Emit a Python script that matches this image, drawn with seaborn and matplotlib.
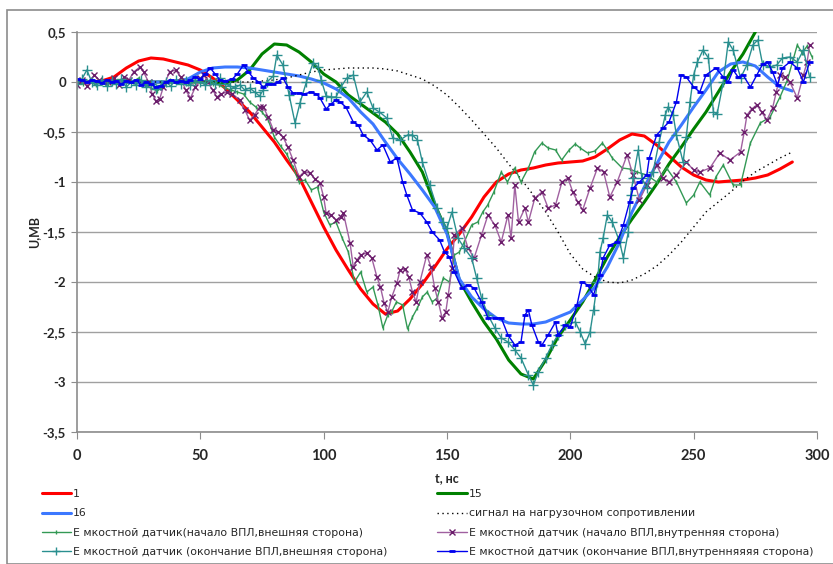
import numpy as np
import pandas as pd
import seaborn as sns
import matplotlib
matplotlib.use("Agg")
from matplotlib import pyplot as plt
from matplotlib.ticker import FuncFormatter
from matplotlib.patches import Rectangle

# smooth curves, step 5 ns
t_smooth = list(range(0, 295, 5))
u_1 = [0, 0, 0.01, 0.05, 0.14, 0.21, 0.24, 0.23, 0.2, 0.17, 0.12, 0.04, -0.06, -0.18, -0.3,
       -0.45, -0.6, -0.78, -0.95, -1.2, -1.45, -1.68, -1.88, -2.07, -2.22, -2.32, -2.29, -2.17,
       -2.02, -1.85, -1.67, -1.52, -1.35, -1.15, -1.0, -0.92, -0.88, -0.86, -0.83, -0.81, -0.8,
       -0.79, -0.75, -0.67, -0.58, -0.52, -0.54, -0.63, -0.74, -0.85, -0.93, -0.98, -1.0, -0.99,
       -0.98, -0.96, -0.93, -0.87, -0.8]
t_15 = list(range(0, 280, 5))
u_15 = [0, 0, 0, 0, 0, 0, 0, 0, 0, 0, 0, 0, -0.01, 0.02, 0.12, 0.28, 0.38, 0.37, 0.3, 0.2,
        0.08, 0.0, -0.13, -0.22, -0.31, -0.4, -0.52, -0.7, -0.9, -1.22, -1.5, -1.98, -2.2, -2.4,
        -2.57, -2.78, -2.92, -2.97, -2.78, -2.55, -2.38, -2.2, -1.98, -1.75, -1.55, -1.37, -1.2,
        -1.02, -0.82, -0.65, -0.47, -0.3, -0.1, 0.1, 0.28, 0.5]
u_16 = [0, 0, 0, 0, 0, 0, 0, 0, 0.01, 0.03, 0.1, 0.14, 0.15, 0.15, 0.14, 0.12, 0.1, 0.08, 0.06,
        0.03, -0.01, -0.07, -0.16, -0.3, -0.42, -0.6, -0.77, -0.92, -1.08, -1.25, -1.52, -1.97,
        -2.15, -2.27, -2.36, -2.41, -2.42, -2.42, -2.4, -2.35, -2.3, -2.18, -2.05, -1.85, -1.6,
        -1.3, -1.05, -0.82, -0.6, -0.43, -0.25, -0.08, 0.1, 0.18, 0.2, 0.16, 0.05, -0.05, -0.09]
u_load = [0, 0, 0, 0, 0, 0, 0, 0, 0, 0, 0, 0, 0, 0, 0, 0.01, 0.02, 0.04, 0.07, 0.1, 0.12, 0.13,
          0.14, 0.14, 0.14, 0.13, 0.11, 0.07, 0.03, -0.04, -0.13, -0.25, -0.38, -0.52, -0.66,
          -0.82, -0.97, -1.13, -1.3, -1.5, -1.72, -1.87, -1.95, -2.0, -2.01, -1.98, -1.92, -1.84,
          -1.73, -1.6, -1.45, -1.3, -1.2, -1.1, -0.99, -0.9, -0.83, -0.76, -0.7]

# capacitive sensors
t_ob = [0, 2.5, 5, 7.5, 10, 12.5, 15, 17.5, 20, 22.5, 25, 27.5, 30, 32.5, 35, 37.5, 40, 42.5, 45,
        47.5, 50, 52.5, 55, 57.5, 60, 62.5, 65, 67.5, 70, 72.5, 75, 77.5, 80, 82.5, 85, 87.5, 90,
        92.5, 95, 97.5, 100, 102.5, 105, 107.5, 110, 112.5, 115, 117.5, 120, 122, 124, 126, 127.5,
        129.5, 132, 134, 136, 138, 140, 142, 144, 146, 148.5, 151, 153, 155, 157, 160, 162.5,
        164.5, 166.5, 169, 172, 174.5, 177.5, 180, 183, 185.5, 188.5, 191, 194, 196.5, 199.5, 202,
        204, 207, 210, 213, 215, 217, 221, 224, 227, 231, 235, 239, 243, 247, 250, 252.5, 256.5,
        259, 262, 266, 269, 273, 277, 281, 285, 288, 292, 294, 296, 298]
u_ob = [0.0, -0.02, 0.01, -0.03, 0.0, -0.02, 0.02, -0.01, 0.03, 0.0, 0.04, -0.02, -0.06, -0.09,
        -0.04, 0.02, 0.0, 0.03, -0.02, 0.01, 0.0, 0.02, -0.02, -0.03, -0.06, -0.08, -0.1, -0.12,
        -0.2, -0.25, -0.3, -0.38, -0.55, -0.64, -0.72, -0.85, -1.0, -0.98, -1.08, -1.05, -1.3,
        -1.43, -1.4, -1.56, -1.7, -2.0, -1.9, -2.1, -2.05, -2.23, -2.46, -2.33, -2.3, -2.2, -2.23,
        -2.47, -2.35, -2.26, -2.15, -2.1, -2.2, -2.16, -1.96, -2.0, -1.73, -1.7, -1.6, -1.43, -1.4,
        -1.3, -1.23, -1.1, -0.9, -1.0, -0.86, -1.0, -0.86, -0.7, -0.61, -0.66, -0.68, -0.78, -0.68,
        -0.62, -0.66, -0.71, -0.69, -0.61, -0.68, -0.76, -0.86, -0.87, -0.9, -0.93, -1.0, -0.86,
        -1.0, -1.21, -1.13, -1.0, -1.13, -0.95, -0.83, -1.03, -1.03, -0.61, -0.41, -0.35, -0.15,
        0.02, 0.37, 0.29, 0.36, 0.25]

t_ib = [0, 2, 4, 7, 9, 12.5, 15, 17, 19, 21, 23, 25.5, 27, 29, 30.5, 32, 33.5, 35, 37.5, 40, 42,
        44, 46, 48, 50, 51.5, 53, 55, 56.7, 58.5, 60.8, 63, 66, 68, 70, 72, 74, 75.5, 77.5, 79.6,
        81.5, 83.5, 85.5, 87.6, 90, 92, 94.4, 96.5, 98.5, 100, 101, 103, 105, 107, 108, 110.7,
        112, 113.5, 115, 117.5, 119.5, 121.6, 123, 124.5, 126, 127.6, 129.7, 131, 133, 134.5,
        136, 137.5, 139, 141.8, 143.5, 145, 146.5, 148, 149.5, 150.5, 152, 153, 156, 158.5, 161,
        164, 166.6, 169.4, 172, 174.7, 176, 177.5, 179, 181.6, 183, 185.6, 188.5, 191, 194, 196.6,
        199, 201, 203, 205, 208, 211, 213.5, 216, 219, 223, 225.4, 228, 231, 235, 237.5, 240, 243,
        247, 250, 252.5, 256.6, 260.6, 264.7, 269, 270.5, 271.6, 273.5, 275.6, 277.5, 279.7, 282,
        283.5, 285, 287, 289, 292, 294.5, 296, 297]
u_ib = [-0.03, 0.02, -0.04, 0.07, 0.02, 0.0, 0.04, -0.03, 0.05, 0.02, 0.1, 0.15, 0.1, 0.0,
        -0.12, -0.19, -0.17, -0.05, 0.1, 0.12, 0.05, -0.08, -0.16, -0.05, 0.04, 0.07, 0.0, -0.08,
        -0.15, -0.12, -0.1, -0.12, -0.18, -0.28, -0.38, -0.33, -0.25, -0.25, -0.35, -0.48, -0.5,
        -0.55, -0.65, -0.78, -0.95, -0.9, -0.91, -0.97, -1.01, -1.15, -1.31, -1.33, -1.38, -1.35,
        -1.31, -1.61, -1.85, -1.78, -1.73, -1.71, -1.76, -1.95, -2.05, -2.21, -2.3, -2.15, -2.01,
        -1.88, -1.87, -1.95, -2.1, -2.2, -2.0, -1.73, -1.85, -2.06, -2.2, -2.36, -2.3, -2.13,
        -1.86, -1.53, -1.46, -1.66, -1.76, -1.53, -1.33, -1.43, -1.6, -1.33, -1.56, -1.03, -1.4,
        -1.26, -1.4, -1.16, -1.1, -1.26, -1.23, -1.0, -0.96, -1.1, -1.2, -1.28, -1.06, -0.86, -0.9,
        -1.15, -1.0, -0.73, -0.93, -1.18, -1.03, -0.83, -0.96, -1.0, -0.93, -0.8, -0.88, -0.9,
        -0.86, -0.71, -0.78, -0.7, -0.5, -0.33, -0.27, -0.23, -0.3, -0.38, -0.26, -0.1, 0.07,
        0.05, 0.0, -0.16, 0.07, 0.2, 0.37]

t_oe = [0, 2, 4, 6, 8, 10, 12, 14, 16, 18, 20, 22, 24, 26, 28, 30, 32, 34, 36, 38, 40, 42, 44,
        46, 48, 50, 52, 54, 56, 58, 60, 62, 64, 66, 68, 70, 72, 74, 75.5, 77, 79.6, 81, 83.5, 86,
        88.4, 90.4, 93, 95.7, 97.7, 99, 101, 103, 105, 107, 109.4, 112, 114.7, 117.5, 120, 122.6,
        125.6, 128, 131, 134, 136, 138, 140, 143, 146, 148.4, 150, 152, 154.4, 157, 160, 162, 164,
        166.6, 169.4, 172, 174.7, 177.5, 180, 183, 185, 187, 190, 192.5, 195, 198, 202, 204, 206,
        208, 209.4, 211, 212, 213.3, 215, 217, 220, 221.5, 223.5, 224.5, 225.5, 227.5, 229, 231,
        233.5, 236, 238.5, 239.6, 241.7, 243, 245.7, 247, 248.5, 250, 251.5, 253.8, 256, 258,
        259.5, 262, 264, 266, 269, 271.6, 274, 276, 278, 281, 283.7, 286, 289, 292, 294.5, 297]
u_oe = [-0.02, 0.03, 0.12, 0.0, -0.03, 0.02, -0.04, 0.01, -0.02, 0.03, -0.05, 0.0, -0.03, 0.02,
        -0.05, -0.02, -0.07, -0.03, 0.0, -0.04, 0.02, -0.02, 0.01, -0.03, 0.02, 0.0, -0.03, 0.02,
        -0.02, 0.04, -0.02, -0.04, -0.06, -0.03, -0.08, -0.06, -0.1, -0.14, -0.08, 0.0, 0.06, 0.27,
        0.17, -0.13, -0.41, -0.21, 0.0, 0.19, 0.15, 0.02, -0.14, -0.15, -0.15, -0.05, 0.04, 0.07,
        -0.2, -0.1, -0.26, -0.3, -0.36, -0.56, -0.58, -0.53, -0.53, -0.58, -0.8, -1.03, -1.26,
        -1.4, -1.46, -1.3, -1.56, -1.66, -1.76, -1.96, -2.16, -2.33, -2.46, -2.56, -2.6, -2.68,
        -2.76, -2.93, -3.03, -2.9, -2.76, -2.63, -2.53, -2.43, -2.4, -2.5, -2.62, -2.5, -2.28,
        -2.0, -1.7, -1.56, -1.33, -1.4, -1.6, -1.76, -1.5, -1.13, -0.96, -0.68, -0.96, -1.06,
        -0.9, -0.6, -0.33, -0.25, -0.33, -0.53, -0.8, -0.55, -0.2, 0.07, 0.2, 0.32, 0.24, -0.3,
        -0.32, 0.0, 0.4, 0.32, 0.04, 0.17, 0.37, 0.42, 0.17, 0.15, 0.17, 0.24, 0.25, 0.2, 0.32, 0.05]

t_oi = [0, 2, 4, 6, 8, 10, 12, 14, 16, 18, 20, 22, 24, 26, 28, 30, 32, 34, 36, 38, 40, 42, 44,
        46, 48, 50, 52, 54, 56, 58, 60, 63, 65, 67.5, 69.5, 71.5, 73.5, 75.5, 77.5, 79.6, 81.5,
        83.5, 85.5, 87.6, 90, 92, 95, 97, 98.5, 101, 103, 105, 106.6, 109, 112, 114, 116, 118.8,
        121.6, 124, 127, 129.7, 132, 133.7, 136, 139, 141.8, 144, 147, 149, 151, 153, 156, 158.5,
        161, 164, 166.6, 169.4, 172, 174.7, 177.5, 180, 181.6, 183, 184.4, 187, 188.5, 191, 194,
        195, 198, 200, 202.7, 204.7, 207, 209.4, 212, 213.3, 216, 219, 221.5, 224, 225.5, 228,
        231, 232, 235, 237.6, 240, 243, 245, 247, 250, 252.5, 255, 259, 262, 264, 266, 268, 270,
        273, 275.6, 278, 280, 282, 284, 286, 289, 292, 294.5, 297]
u_oi = [0.03, 0.02, 0.0, 0.02, 0.01, -0.01, 0.02, 0.0, 0.01, -0.02, 0.01, 0.0, 0.02, -0.03, 0.0,
        -0.02, -0.05, -0.04, 0.0, 0.02, 0.0, 0.01, 0.0, 0.02, 0.05, 0.03, 0.08, 0.14, 0.08, 0.02,
        0.01, 0.03, 0.08, 0.17, 0.1, 0.04, 0.0, -0.05, -0.02, -0.02, 0.0, 0.04, -0.05, -0.11,
        -0.11, -0.12, -0.1, -0.12, -0.16, -0.27, -0.22, -0.18, -0.2, -0.25, -0.4, -0.43, -0.53,
        -0.58, -0.68, -0.63, -0.8, -0.76, -1.0, -1.13, -1.28, -1.31, -1.4, -1.5, -1.58, -1.7,
        -1.75, -1.9, -2.06, -2.03, -2.06, -2.2, -2.36, -2.36, -2.36, -2.53, -2.63, -2.6, -2.33,
        -2.28, -2.43, -2.6, -2.63, -2.53, -2.4, -2.53, -2.43, -2.45, -2.23, -2.0, -2.03, -2.13,
        -1.93, -1.76, -1.63, -1.6, -1.43, -1.2, -1.06, -1.0, -0.93, -0.76, -0.53, -0.46, -0.4,
        -0.2, 0.07, 0.05, -0.05, -0.1, 0.07, 0.14, 0.05, 0.0, 0.12, 0.05, 0.07, -0.05, 0.07, 0.18,
        0.2, 0.1, -0.03, 0.14, 0.2, 0.14, 0.0, 0.2]

labels = ["1", "15", "16", "сигнал на нагрузочном сопротивлении",
          "Е мкостной датчик(начало ВПЛ,внешняя сторона)",
          "Е мкостной датчик (начало ВПЛ,внутренняя сторона)",
          "Е мкостной датчик (окончание ВПЛ,внешняя сторона)",
          "Е мкостной датчик (окончание ВПЛ,внутренняяяя сторона)"]
y_ticks = [0.5, 0, -0.5, -1, -1.5, -2, -2.5, -3, -3.5]
x_ticks = [0, 50, 100, 150, 200, 250, 300]

sns.set_style("white")
plt.rcParams['font.family'] = ['Lato', 'DejaVu Sans']

fig = plt.figure(figsize=(8.33, 5.64), dpi=100)
fig.patches.append(Rectangle((7 / 833, 0), 1, 1 - 10 / 564, transform=fig.transFigure,
                             fill=False, edgecolor="#8c8c8c", lw=1.2))
ax = fig.add_axes([77 / 833, 1 - 432 / 564, 740 / 833, 400 / 564])

sns.lineplot(x=t_smooth[:len(u_1)], y=u_1, ax=ax, color="#ff0000", lw=2.2, label=labels[0])
sns.lineplot(x=t_15, y=u_15, ax=ax, color="#008000", lw=2.2, label=labels[1])
sns.lineplot(x=t_smooth, y=u_16, ax=ax, color="#3c78ff", lw=2.2, label=labels[2])
sns.lineplot(x=t_smooth, y=u_load, ax=ax, color="black", lw=1, linestyle=(0, (1, 2.5)),
             label=labels[3])
sns.lineplot(x=t_ob, y=u_ob, ax=ax, color="#339955", lw=1, marker="|", markersize=3,
             markeredgecolor="#339955", markeredgewidth=1, sort=False, label=labels[4])
sns.lineplot(x=t_ib, y=u_ib, ax=ax, color="#a060a0", lw=1, marker="x", markersize=5,
             markeredgecolor="#6b1d6b", markeredgewidth=1, sort=False, label=labels[5])
sns.lineplot(x=t_oe, y=u_oe, ax=ax, color="#2a8f8f", lw=1, marker="+", markersize=7,
             markeredgecolor="#2a8f8f", markeredgewidth=1, sort=False, label=labels[6])
sns.lineplot(x=t_oi, y=u_oi, ax=ax, color="#0000ee", lw=1, marker="_", markersize=5,
             markeredgecolor="#0000ee", markeredgewidth=2, sort=False, label=labels[7])

ax.set_xlim(0, 300)
ax.set_ylim(-3.5, 0.5)
ax.set_yticks(y_ticks)
ax.set_xticks(x_ticks)
ax.yaxis.set_major_formatter(FuncFormatter(lambda v, p: f"{v:g}".replace(".", ",")))
ax.grid(axis="y", color="#a0a0a0", lw=1)
ax.grid(axis="x", visible=False)
for s in ["top", "right"]:
    ax.spines[s].set_visible(False)
for s in ["left", "bottom"]:
    ax.spines[s].set_color("#8c8c8c")
    ax.spines[s].set_linewidth(1.2)
ax.tick_params(axis="y", left=True, length=4, color="#8c8c8c", labelsize=9.5, pad=4)
ax.tick_params(axis="x", bottom=True, length=5, color="#8c8c8c", labelsize=10.5, pad=7)
for lab in ax.get_xticklabels() + ax.get_yticklabels():
    lab.set_fontweight("bold")
ax.set_ylabel("U,МВ", fontsize=9, fontweight="bold", labelpad=2)
ax.set_xlabel("t, нс", fontsize=9, fontweight="bold", labelpad=7)

handles, labs = ax.get_legend_handles_labels()
ax.get_legend().remove()
order = [0, 2, 4, 6, 1, 3, 5, 7]
fig.legend([handles[i] for i in order], [labs[i] for i in order], ncol=2,
           loc="upper left", bbox_to_anchor=(0.05, 0.133), frameon=False,
           prop={"family": "DejaVu Sans", "size": 7.8}, handlelength=2.7,
           labelspacing=0.86, columnspacing=4.6, handletextpad=0.2, borderaxespad=0,
           borderpad=0, markerscale=0.75)

fig.savefig("out.png", dpi=100)
